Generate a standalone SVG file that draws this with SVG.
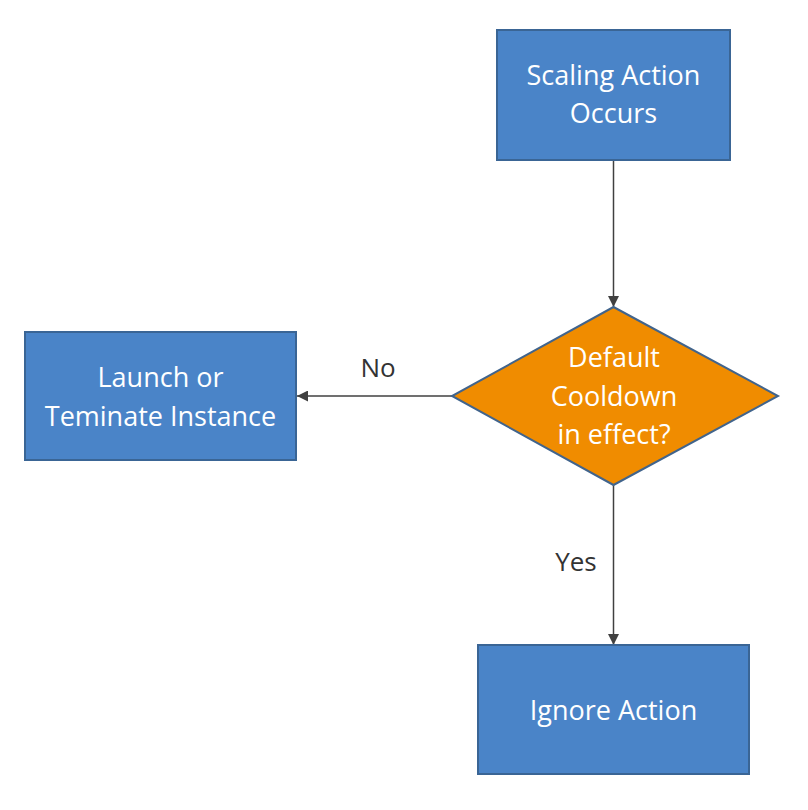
<svg xmlns="http://www.w3.org/2000/svg" width="808" height="810" viewBox="0 0 808 810">
<defs>
<style>
.box{fill:#4a84c8;stroke:#3a6595;stroke-width:2}
.dia{fill:#f08c00;stroke:#41648c;stroke-width:2}
.t{font-family:"Open Sans","Noto Sans",sans-serif;font-size:27px;fill:#ffffff;text-anchor:middle}
.lbl{font-family:"Open Sans","Noto Sans",sans-serif;font-size:26px;fill:#333333;text-anchor:middle}
.c{stroke:#404040;stroke-width:1.5;fill:none;marker-end:url(#ah)}
</style>
<marker id="ah" viewBox="0 0 10 10" refX="10" refY="5" markerWidth="11" markerHeight="11" markerUnits="userSpaceOnUse" orient="auto">
<path d="M0,0 L10,5 L0,10 z" fill="#404040"/>
</marker>
</defs>
<rect width="808" height="810" fill="#ffffff"/>
<g id="connectors">
<line class="c" x1="613.5" y1="161" x2="613.5" y2="307"/>
<line class="c" x1="452" y1="396" x2="297" y2="396"/>
<line class="c" x1="613.5" y1="485" x2="613.5" y2="645"/>
<text class="lbl" x="378" y="377">No</text>
<text class="lbl" x="576" y="571">Yes</text>
</g>
<g id="scaling">
<rect class="box" x="497" y="30" width="233" height="130"/>
<text class="t" x="613.5" y="85">Scaling Action</text>
<text class="t" x="613.5" y="123">Occurs</text>
</g>
<g id="decision">
<polygon class="dia" points="613.5,307 778,396 613.5,485 452,396"/>
<text class="t" x="614" y="367">Default</text>
<text class="t" x="614" y="406">Cooldown</text>
<text class="t" x="614" y="444">in effect?</text>
</g>
<g id="launch">
<rect class="box" x="25" y="332" width="271" height="128"/>
<text class="t" x="160.5" y="387">Launch or</text>
<text class="t" x="160.5" y="426">Teminate Instance</text>
</g>
<g id="ignore">
<rect class="box" x="478" y="645" width="271" height="129"/>
<text class="t" x="613.5" y="720">Ignore Action</text>
</g>
</svg>
